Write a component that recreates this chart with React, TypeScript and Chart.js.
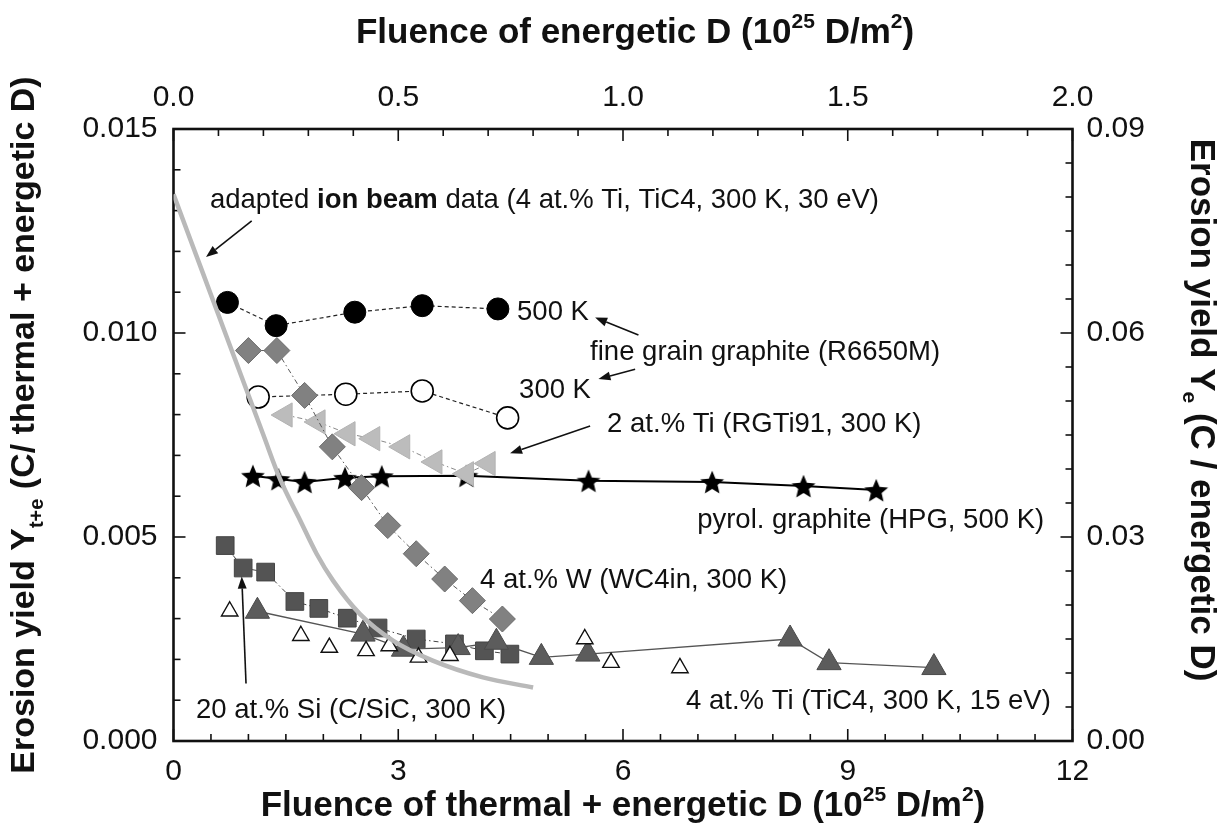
import React, { useEffect, useRef } from 'react';
import { Chart, registerables } from 'chart.js';

Chart.register(...registerables);

const WIDTH = 1227;
const HEIGHT = 836;
const FONT = '"Liberation Sans", Arial, Helvetica, sans-serif';

// ---- data (x: fluence of thermal + energetic D, y: erosion yield Y t+e) ----
const fg500X = [0.72, 1.37, 2.42, 3.32, 4.33];
const fg500Y = [0.01075, 0.01018, 0.01051, 0.01067, 0.01059];

const fg300X = [1.13, 2.3, 3.32, 4.46];
const fg300Y = [0.00843, 0.0085, 0.00858, 0.00792];

const wc4X = [1.0, 1.38, 1.75, 2.12, 2.51, 2.86, 3.24, 3.62, 3.99, 4.39];
const wc4Y = [0.00957, 0.00957, 0.00847, 0.00721, 0.00621, 0.00528, 0.00459, 0.00397, 0.00344, 0.00299];

const rgtiX = [1.49, 1.93, 2.33, 2.66, 3.06, 3.49, 3.91, 4.2];
const rgtiY = [0.00799, 0.00782, 0.00753, 0.00741, 0.00721, 0.00684, 0.00655, 0.0068];

const hpgX = [1.06, 1.4, 1.75, 2.29, 2.78, 3.91, 5.54, 7.19, 8.41, 9.38];
const hpgY = [0.0065, 0.00642, 0.00635, 0.00645, 0.00649, 0.0065, 0.00638, 0.00635, 0.00625, 0.00615];

const sicX = [0.69, 0.93, 1.23, 1.62, 1.94, 2.32, 2.73, 3.24, 3.75, 4.15, 4.49];
const sicY = [0.00479, 0.00424, 0.00414, 0.00342, 0.00325, 0.00301, 0.00277, 0.0025, 0.00238, 0.00221, 0.00213];

const tic15X = [1.12, 2.53, 3.07, 3.8, 4.31, 4.91, 5.53, 8.23, 8.75, 10.15];
const tic15Y = [0.00318, 0.00262, 0.00225, 0.00229, 0.00242, 0.00205, 0.00213, 0.0025, 0.00192, 0.0018];

const openTriX = [0.75, 1.7, 2.08, 2.57, 2.88, 3.27, 3.69, 5.49, 5.84, 6.76];
const openTriY = [0.00318, 0.00258, 0.00229, 0.00221, 0.00233, 0.00205, 0.00209, 0.0025, 0.00192, 0.00179];

const ionBeamX = [0, 0.4, 0.8, 1.2, 1.42, 1.69, 1.91, 2.13, 2.49, 2.93, 3.46, 4.13, 4.8];
const ionBeamY = [0.0134, 0.01143, 0.00946, 0.0075, 0.00643, 0.00541, 0.00459, 0.00393, 0.00311, 0.00246, 0.00197, 0.00156, 0.00131];

// ---- axes / ticks ----
const xTicks = [0, 3, 6, 9, 12];
const xTickLabels = ['0', '3', '6', '9', '12'];
const xMinorStep = 0.5;
const x2Ticks = [0, 0.5, 1.0, 1.5, 2.0];
const x2TickLabels = ['0.0', '0.5', '1.0', '1.5', '2.0'];
const x2MinorStep = 0.1;
const yTicks = [0, 0.005, 0.01, 0.015];
const yTickLabels = ['0.000', '0.005', '0.010', '0.015'];
const yMinorStep = 0.001;
const y2Ticks = [0, 0.03, 0.06, 0.09];
const y2TickLabels = ['0.00', '0.03', '0.06', '0.09'];
const y2MinorStep = 0.005;

type Part = { t: string; b?: boolean; k?: 'sup' | 'sub' };

const bottomTitle: Part[] = [
  { t: 'Fluence of thermal + energetic D (10' }, { t: '25', k: 'sup' }, { t: ' D/m' }, { t: '2', k: 'sup' }, { t: ')' },
];
const topTitle: Part[] = [
  { t: 'Fluence of energetic D (10' }, { t: '25', k: 'sup' }, { t: ' D/m' }, { t: '2', k: 'sup' }, { t: ')' },
];
const leftTitle: Part[] = [
  { t: 'Erosion yield Y' }, { t: 't+e', k: 'sub' }, { t: ' (C/ thermal + energetic D)' },
];
const rightTitle: Part[] = [
  { t: 'Erosion yield Y' }, { t: 'e', k: 'sub' }, { t: ' (C / energetic D)' },
];

// annotation labels in data coordinates (x bottom axis, y left axis), left-aligned, vertically centred
const labelTexts: { x: number; y: number; parts: Part[] }[] = [
  { x: 0.487, y: 0.01331, parts: [{ t: 'adapted ' }, { t: 'ion beam', b: true }, { t: ' data (4 at.% Ti, TiC4, 300 K, 30 eV)' }] },
  { x: 4.586, y: 0.01056, parts: [{ t: '500 K' }] },
  { x: 5.561, y: 0.00958, parts: [{ t: 'fine grain graphite (R6650M)' }] },
  { x: 4.613, y: 0.00865, parts: [{ t: '300 K' }] },
  { x: 5.788, y: 0.00782, parts: [{ t: '2 at.% Ti (RGTi91, 300 K)' }] },
  { x: 6.99, y: 0.00547, parts: [{ t: 'pyrol. graphite (HPG, 500 K)' }] },
  { x: 4.092, y: 0.004, parts: [{ t: '4 at.% W (WC4in, 300 K)' }] },
  { x: 6.842, y: 0.00103, parts: [{ t: '4 at.% Ti (TiC4, 300 K, 15 eV)' }] },
  { x: 0.3, y: 0.00081, parts: [{ t: '20 at.% Si (C/SiC, 300 K)' }] },
];

// arrows [fromX, fromY, toX, toY] in data coordinates
const arrows = [
  [1.044, 0.01275, 0.434, 0.01186],
  [6.206, 0.00995, 5.628, 0.01038],
  [6.162, 0.00911, 5.672, 0.00887],
  [5.561, 0.00772, 4.493, 0.00705],
  [0.968, 0.00141, 0.911, 0.00403],
];

function pts(xs: number[], ys: number[]) {
  return xs.map((x, i) => ({ x, y: ys[i] }));
}

function makeStar(size: number, fill: string) {
  const c = document.createElement('canvas');
  c.width = size;
  c.height = size;
  const g = c.getContext('2d')!;
  const cx = size / 2;
  const cy = size / 2 + size * 0.05;
  const R = size / 2 - 0.5;
  const r = R * 0.45;
  g.beginPath();
  for (let i = 0; i < 10; i++) {
    const a = -Math.PI / 2 + (i * Math.PI) / 5;
    const rr = i % 2 === 0 ? R : r;
    g.lineTo(cx + rr * Math.cos(a), cy + rr * Math.sin(a));
  }
  g.closePath();
  g.fillStyle = fill;
  g.fill();
  return c;
}

function drawRich(ctx: CanvasRenderingContext2D, parts: Part[], x0: number, cy: number, size: number, bold: boolean, align: 'center' | 'left') {
  const fontFor = (p: Part) => `${p.b || bold ? 'bold ' : ''}${p.k ? Math.round(size * 0.6) : size}px ${FONT}`;
  let total = 0;
  const widths = parts.map((p) => {
    ctx.font = fontFor(p);
    const w = ctx.measureText(p.t).width;
    total += w;
    return w;
  });
  let x = align === 'center' ? x0 - total / 2 : x0;
  const base = cy + size * 0.36;
  ctx.textAlign = 'left';
  ctx.textBaseline = 'alphabetic';
  parts.forEach((p, i) => {
    ctx.font = fontFor(p);
    const dy = p.k === 'sup' ? -size * 0.42 : p.k === 'sub' ? size * 0.25 : 0;
    ctx.fillText(p.t, x, base + dy);
    x += widths[i];
  });
}

const framePlugin = {
  id: 'frame',
  beforeDatasetsDraw(chart: any) {
    const { ctx, chartArea, scales } = chart;
    const { left, right, top, bottom } = chartArea;
    ctx.save();
    ctx.strokeStyle = '#111';
    ctx.lineWidth = 1.6;
    const major = 12;
    const minor = 7;
    const near = (v: number, arr: number[]) => arr.some((a) => Math.abs(a - v) < 1e-9);
    // bottom (x)
    for (let i = 0; i <= Math.round(12 / xMinorStep); i++) {
      const v = i * xMinorStep;
      const p = scales.x.getPixelForValue(v);
      const len = near(v, xTicks) ? major : minor;
      ctx.beginPath(); ctx.moveTo(p, bottom); ctx.lineTo(p, bottom - len); ctx.stroke();
    }
    // top (x2)
    for (let i = 0; i <= Math.round(2 / x2MinorStep); i++) {
      const v = i * x2MinorStep;
      const p = scales.x2.getPixelForValue(v);
      const len = near(v, x2Ticks) ? major : minor;
      ctx.beginPath(); ctx.moveTo(p, top); ctx.lineTo(p, top + len); ctx.stroke();
    }
    // left (y)
    for (let i = 0; i <= Math.round(0.015 / yMinorStep); i++) {
      const v = i * yMinorStep;
      const p = scales.y.getPixelForValue(v);
      const len = near(v, yTicks) ? major : minor;
      ctx.beginPath(); ctx.moveTo(left, p); ctx.lineTo(left + len, p); ctx.stroke();
    }
    // right (y2)
    for (let i = 0; i <= Math.round(0.09 / y2MinorStep); i++) {
      const v = i * y2MinorStep;
      const p = scales.y2.getPixelForValue(v);
      const len = near(v, y2Ticks) ? major : minor;
      ctx.beginPath(); ctx.moveTo(right, p); ctx.lineTo(right - len, p); ctx.stroke();
    }
    ctx.lineWidth = 2.6;
    ctx.strokeRect(left, top, right - left, bottom - top);

    // tick labels
    ctx.fillStyle = '#111';
    ctx.font = `30px ${FONT}`;
    ctx.textBaseline = 'middle';
    ctx.textAlign = 'center';
    xTicks.forEach((v, i) => ctx.fillText(xTickLabels[i], scales.x.getPixelForValue(v), bottom + 31));
    x2Ticks.forEach((v, i) => ctx.fillText(x2TickLabels[i], scales.x2.getPixelForValue(v), top - 31));
    ctx.textAlign = 'right';
    yTicks.forEach((v, i) => ctx.fillText(yTickLabels[i], left - 16, scales.y.getPixelForValue(v)));
    ctx.textAlign = 'left';
    y2Ticks.forEach((v, i) => ctx.fillText(y2TickLabels[i], right + 14, scales.y2.getPixelForValue(v)));

    // axis titles
    drawRich(ctx, bottomTitle, (left + right) / 2, 803, 35, true, 'center');
    drawRich(ctx, topTitle, (left + right) / 2 + 12, 30, 35, true, 'center');
    ctx.save();
    ctx.translate(22, 425);
    ctx.rotate(-Math.PI / 2);
    drawRich(ctx, leftTitle, 0, 0, 34, true, 'center');
    ctx.restore();
    ctx.save();
    ctx.translate(1204, 410);
    ctx.rotate(Math.PI / 2);
    drawRich(ctx, rightTitle, 0, 0, 35, true, 'center');
    ctx.restore();
    ctx.restore();
  },
  afterDatasetsDraw(chart: any) {
    const { ctx, scales } = chart;
    ctx.save();
    ctx.fillStyle = '#111';
    labelTexts.forEach((l) => {
      drawRich(ctx, l.parts, scales.x.getPixelForValue(l.x), scales.y.getPixelForValue(l.y), 27.5, false, 'left');
    });
    ctx.strokeStyle = '#111';
    ctx.lineWidth = 1.6;
    arrows.forEach((a) => {
      const x1 = scales.x.getPixelForValue(a[0]);
      const y1 = scales.y.getPixelForValue(a[1]);
      const x2 = scales.x.getPixelForValue(a[2]);
      const y2 = scales.y.getPixelForValue(a[3]);
      const ang = Math.atan2(y2 - y1, x2 - x1);
      const hl = 12;
      const hw = 4.5;
      const bx = x2 - hl * Math.cos(ang);
      const by = y2 - hl * Math.sin(ang);
      ctx.beginPath(); ctx.moveTo(x1, y1); ctx.lineTo(bx, by); ctx.stroke();
      ctx.beginPath();
      ctx.moveTo(x2, y2);
      ctx.lineTo(bx + hw * Math.sin(ang), by - hw * Math.cos(ang));
      ctx.lineTo(bx - hw * Math.sin(ang), by + hw * Math.cos(ang));
      ctx.closePath();
      ctx.fill();
    });
    ctx.restore();
  },
};

export default function App() {
  const ref = useRef<HTMLCanvasElement | null>(null);
  useEffect(() => {
    document.body.style.margin = '0';
    const canvas = ref.current;
    if (!canvas) return;
    const star = makeStar(26, '#000');
    const chart = new Chart(canvas, {
      type: 'scatter',
      data: {
        datasets: [
          {
            label: 'ion beam',
            data: pts(ionBeamX, ionBeamY),
            showLine: true,
            borderColor: '#b9b9b9',
            borderWidth: 4.5,
            pointRadius: 0,
            cubicInterpolationMode: 'monotone',
            order: 0,
          },
          {
            label: 'W',
            data: pts(wc4X, wc4Y),
            showLine: true,
            borderColor: '#5a5a5a',
            borderWidth: 1,
            borderDash: [5, 3, 1.5, 3],
            pointStyle: 'rectRot',
            pointRadius: 13,
            pointBackgroundColor: '#818181',
            pointBorderColor: '#6c6c6c',
            pointBorderWidth: 1,
            order: 1,
          },
          {
            label: 'RGTi91',
            data: pts(rgtiX, rgtiY),
            showLine: true,
            borderColor: '#8a8a8a',
            borderWidth: 1,
            borderDash: [5, 3, 1.5, 3],
            pointStyle: 'triangle',
            rotation: -90,
            pointRadius: 14,
            pointBackgroundColor: '#bcbcbc',
            pointBorderColor: '#b2b2b2',
            pointBorderWidth: 1,
            order: 2,
          },
          {
            label: '500 K',
            data: pts(fg500X, fg500Y),
            showLine: true,
            borderColor: '#222',
            borderWidth: 1.2,
            borderDash: [4, 3],
            pointStyle: 'circle',
            pointRadius: 11,
            pointBackgroundColor: '#000',
            pointBorderColor: '#000',
            pointBorderWidth: 1,
            order: 3,
          },
          {
            label: '300 K',
            data: pts(fg300X, fg300Y),
            showLine: true,
            borderColor: '#222',
            borderWidth: 1.2,
            borderDash: [4, 3],
            pointStyle: 'circle',
            pointRadius: 11,
            pointBackgroundColor: '#fff',
            pointBorderColor: '#000',
            pointBorderWidth: 1.6,
            order: 4,
          },
          {
            label: 'open tri',
            data: pts(openTriX, openTriY),
            showLine: false,
            pointStyle: 'triangle',
            pointRadius: 9.5,
            pointBackgroundColor: '#fff',
            pointBorderColor: '#111',
            pointBorderWidth: 1.4,
            order: 5,
          },
          {
            label: 'TiC4 15 eV',
            data: pts(tic15X, tic15Y),
            showLine: true,
            borderColor: '#555',
            borderWidth: 1.3,
            pointStyle: 'triangle',
            pointRadius: 14,
            pointBackgroundColor: '#5c5c5c',
            pointBorderColor: '#4a4a4a',
            pointBorderWidth: 1,
            order: 6,
          },
          {
            label: 'C/SiC',
            data: pts(sicX, sicY),
            showLine: true,
            borderColor: '#444',
            borderWidth: 1,
            borderDash: [5, 3, 1.5, 3],
            pointStyle: 'rect',
            pointRadius: 12.5,
            pointBackgroundColor: '#545454',
            pointBorderColor: '#444',
            pointBorderWidth: 1,
            order: 7,
          },
          {
            label: 'HPG',
            data: pts(hpgX, hpgY),
            showLine: true,
            borderColor: '#000',
            borderWidth: 2,
            pointStyle: star,
            pointRadius: 13,
            order: 8,
          },
        ] as any,
      },
      options: {
        animation: false,
        responsive: false,
        devicePixelRatio: 1,
        layout: { padding: { left: 173.5, right: WIDTH - 1072.5, top: 129, bottom: HEIGHT - 741 } },
        plugins: { legend: { display: false }, tooltip: { enabled: false } },
        scales: {
          x: { type: 'linear', min: 0, max: 12, display: false },
          x2: { type: 'linear', position: 'top', min: 0, max: 2, display: false },
          y: { type: 'linear', min: 0, max: 0.015, display: false },
          y2: { type: 'linear', position: 'right', min: 0, max: 0.09, display: false },
        },
      } as any,
      plugins: [framePlugin],
    });
    return () => chart.destroy();
  }, []);
  return <canvas ref={ref} width={WIDTH} height={HEIGHT} style={{ display: 'block' }} />;
}
